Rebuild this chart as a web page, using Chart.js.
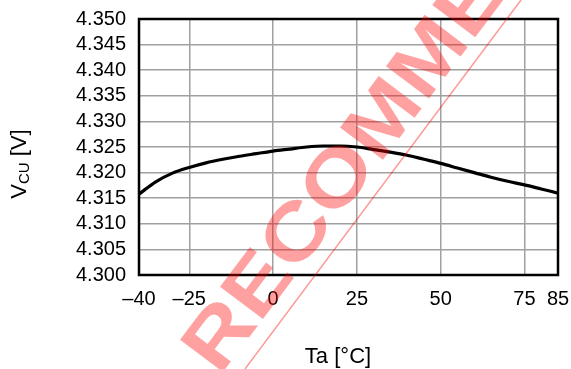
<!DOCTYPE html>
<html>
<head>
<meta charset="utf-8">
<script src="https://cdn.jsdelivr.net/npm/chart.js@4/dist/chart.umd.min.js"></script>
<style>
  html, body { margin: 0; padding: 0; background: #fff; }
  #wrap { width: 571px; height: 369px; position: relative; }
</style>
</head>
<body>
<div id="wrap"><canvas id="vcuChart"></canvas></div>
<script>
// Ta [°C] sample points and the matching VCU readings [V]
const temps = [-40, -35, -30, -25, -20, -15, -10, -5, 0, 5, 10, 15, 20, 25, 30, 35, 40, 45, 50, 55, 60, 65, 70, 75, 80, 85];
const vcu = [4.3158, 4.3182, 4.3199, 4.3210, 4.3219, 4.3226, 4.3232, 4.3237, 4.3242, 4.3246, 4.3250, 4.3252, 4.3252, 4.3250, 4.3245, 4.3240, 4.3234, 4.3226, 4.3218, 4.3209, 4.3200, 4.3191, 4.3183, 4.3176, 4.3168, 4.3160];

const xTicks = [-40, -25, 0, 25, 50, 75, 85];
const yTicks = [4.300, 4.305, 4.310, 4.315, 4.320, 4.325, 4.330, 4.335, 4.340, 4.345, 4.350];

const FONT = '"Liberation Sans", Arial, sans-serif';

// frame, axis titles and the stamp across the plot
const decor = {
    id: 'decor',
    afterDraw(chart) {
        const ctx = chart.ctx;
        const a = chart.chartArea;
        ctx.save();

        ctx.strokeStyle = '#000';
        ctx.lineWidth = 2.5;
        ctx.strokeRect(a.left, a.top, a.right - a.left, a.bottom - a.top);

        ctx.fillStyle = '#000';
        ctx.textBaseline = 'alphabetic';
        ctx.font = '22px ' + FONT;
        ctx.textAlign = 'center';
        ctx.fillText('Ta [°C]', 338, 363);

        // V with CU subscript, rotated
        ctx.save();
        ctx.translate(26, 164);
        ctx.rotate(-Math.PI / 2);
        ctx.font = '22px ' + FONT;
        const wV = ctx.measureText('V').width;
        ctx.font = '15px ' + FONT;
        const wSub = ctx.measureText('CU').width;
        ctx.font = '22px ' + FONT;
        const wRest = ctx.measureText(' [V]').width;
        let x = -(wV + wSub + wRest) / 2;
        ctx.textAlign = 'left';
        ctx.fillText('V', x, 0);
        x += wV;
        ctx.font = '15px ' + FONT;
        ctx.fillText('CU', x, 3);
        x += wSub;
        ctx.font = '22px ' + FONT;
        ctx.fillText(' [V]', x, 0);
        ctx.restore();

        ctx.strokeStyle = 'rgba(255,0,0,0.4)';
        ctx.lineWidth = 1.5;
        ctx.beginPath();
        ctx.moveTo(521, 0);
        ctx.lineTo(245, 369);
        ctx.stroke();

        ctx.save();
        ctx.translate(202, 364);
        ctx.rotate(-53 * Math.PI / 180);
        ctx.scale(1, 0.85);
        ctx.font = 'bold 92px ' + FONT;
        ctx.fillStyle = 'rgba(255,0,0,0.37)';
        ctx.textAlign = 'left';
        ctx.textBaseline = 'middle';
        ctx.fillText('RECOMMENDED', 0, 0);
        ctx.restore();

        ctx.restore();
    }
};

new Chart(document.getElementById('vcuChart'), {
    type: 'scatter',
    data: {
        datasets: [{
            data: temps.map((t, i) => ({ x: t, y: vcu[i] })),
            showLine: true,
            borderColor: '#000',
            borderWidth: 3.2,
            pointRadius: 0,
            cubicInterpolationMode: 'monotone'
        }]
    },
    options: {
        responsive: true,
        maintainAspectRatio: false,
        animation: false,
        devicePixelRatio: 1,
        layout: { padding: { top: 19, right: 13, left: 0, bottom: 0 } },
        plugins: { legend: { display: false }, tooltip: { enabled: false } },
        scales: {
            x: {
                type: 'linear',
                min: xTicks[0],
                max: xTicks[xTicks.length - 1],
                afterBuildTicks: s => { s.ticks = xTicks.map(v => ({ value: v })); },
                afterFit: s => {
                    s.height = 94;
                    s.paddingLeft = 0;
                    s.paddingRight = 0;
                },
                border: { display: false },
                grid: {
                    drawTicks: false,
                    color: '#a0a0a0',
                    lineWidth: 1.5
                },
                ticks: {
                    padding: 12,
                    maxRotation: 0,
                    autoSkip: false,
                    color: '#000',
                    font: { family: FONT, size: 20 },
                    callback: v => (v < 0 ? '\u2013' + Math.abs(v) : String(v))
                }
            },
            y: {
                min: yTicks[0],
                max: yTicks[yTicks.length - 1],
                afterBuildTicks: s => { s.ticks = yTicks.map(v => ({ value: v })); },
                afterFit: s => {
                    s.width = 139;
                    s.paddingTop = 0;
                    s.paddingBottom = 0;
                },
                border: { display: false },
                grid: {
                    drawTicks: false,
                    color: '#a0a0a0',
                    lineWidth: 1.5
                },
                ticks: {
                    padding: 13,
                    autoSkip: false,
                    color: '#000',
                    font: { family: FONT, size: 20 },
                    callback: v => v.toFixed(3)
                }
            }
        }
    },
    plugins: [decor]
});
</script>
</body>
</html>
